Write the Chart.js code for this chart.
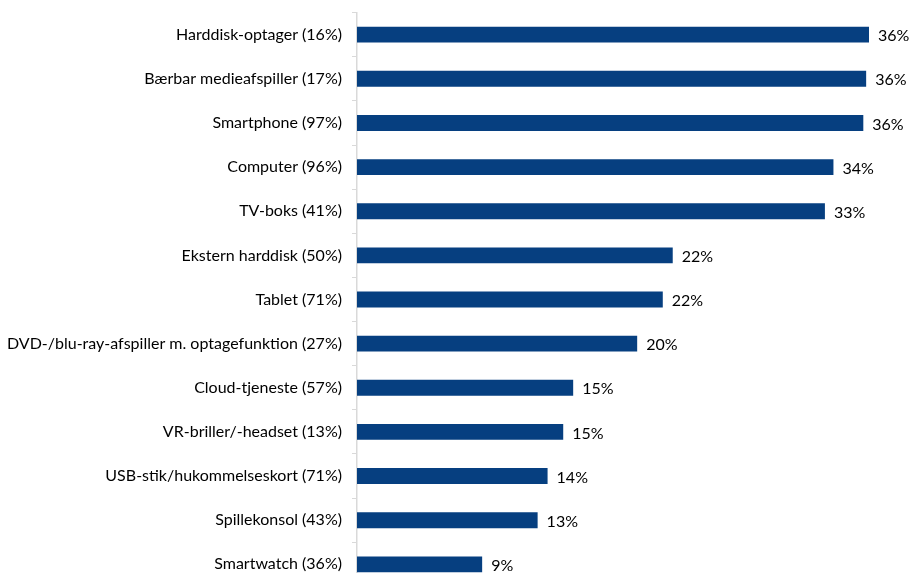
<!DOCTYPE html>
<html>
<head>
<meta charset="utf-8">
<script src="https://cdn.jsdelivr.net/npm/chart.js@4/dist/chart.umd.min.js"></script>
<style>
html,body{margin:0;padding:0;background:#fff;overflow:hidden;width:910px;height:573px;}
#wrap{position:relative;width:910px;height:613px;margin-top:-7px;}
</style>
</head>
<body>
<div id="wrap"><canvas id="c" width="910" height="613"></canvas></div>
<script>
const categories = [
  "Harddisk-optager (16%)",
  "Bærbar medieafspiller (17%)",
  "Smartphone (97%)",
  "Computer (96%)",
  "TV-boks (41%)",
  "Ekstern harddisk (50%)",
  "Tablet (71%)",
  "DVD-/blu-ray-afspiller m. optagefunktion (27%)",
  "Cloud-tjeneste (57%)",
  "VR-briller/-headset (13%)",
  "USB-stik/hukommelseskort (71%)",
  "Spillekonsol (43%)",
  "Smartwatch (36%)"
];
const values = [36.0, 35.8, 35.6, 33.5, 32.9, 22.2, 21.5, 19.7, 15.2, 14.5, 13.4, 12.7, 8.8];
const valueLabels = ["36%","36%","36%","34%","33%","22%","22%","20%","15%","15%","14%","13%","9%"];

const FONT = "Lato, 'Open Sans', sans-serif";

const valueLabelPlugin = {
  id: 'valueLabels',
  afterDatasetsDraw(chart) {
    const ctx = chart.ctx;
    const meta = chart.getDatasetMeta(0);
    ctx.save();
    ctx.font = "16px " + FONT;
    ctx.fillStyle = "#000";
    ctx.textAlign = "left";
    ctx.textBaseline = "middle";
    meta.data.forEach((bar, i) => {
      ctx.fillText(valueLabels[i], bar.x + 9, bar.y + 1.5);
    });
    ctx.restore();
  }
};

new Chart(document.getElementById('c'), {
  type: 'bar',
  data: {
    labels: categories,
    datasets: [{
      data: values,
      backgroundColor: '#063f80',
      borderWidth: 0,
      barPercentage: 0.72,
      categoryPercentage: 0.5
    }]
  },
  options: {
    indexAxis: 'y',
    responsive: false,
    animation: false,
    devicePixelRatio: 1,
    layout: { padding: { top: 7, right: 41, bottom: 0, left: 0 } },
    plugins: { legend: { display: false }, tooltip: { enabled: false }, title: { display: false } },
    scales: {
      x: { display: false, min: 0, max: 36 },
      y: {
        offset: true,
        afterFit(scale) { scale.width = 357; },
        border: { display: true, color: '#d9d9d9', width: 1.5 },
        grid: { offset: true, drawOnChartArea: false, drawTicks: true, tickLength: 5, color: '#d9d9d9' },
        ticks: { color: '#000', font: { family: FONT, size: 16 }, padding: 10 }
      }
    }
  },
  plugins: [valueLabelPlugin]
});
</script>
</body>
</html>
